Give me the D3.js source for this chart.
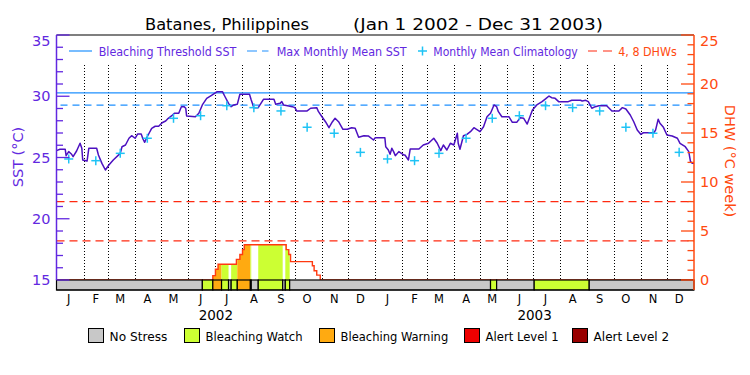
<!DOCTYPE html>
<html><head><meta charset="utf-8">
<script src="https://cdn.jsdelivr.net/npm/d3@7"></script>
<style>body{margin:0;background:#fff}svg{display:block}text{font-family:"DejaVu Sans",sans-serif}</style>
</head><body><svg id="c" width="750" height="375"></svg>
<script>
// ---------------- DATA ----------------
const sstDays = [0,4,10,11,14,17,19,23,27,29,30,35,37,46,48,52,56,60,65,73,75,79,83,86,90,93,97,99,101,103,106,109,113,117,121,125,128,132,135,140,143,146,148,149,159,163,167,172,178,184,190,193,197,200,203,207,210,221,223,226,231,237,249,251,256,258,260,266,270,273,275,287,291,298,300,304,308,312,316,319,323,328,333,338,342,346,352,357,363,365,376,377,380,382,384,386,388,392,398,399,403,405,415,420,426,432,436,440,443,447,451,455,459,460,462,466,470,474,478,481,485,489,493,497,501,504,506,510,518,522,527,531,535,539,545,550,556,560,564,567,571,575,586,590,600,602,606,609,613,617,621,630,636,644,648,652,657,661,665,669,672,684,686,689,691,695,699,705,711,714,720,724,726,728,730];
const sstValues = [25.56,25.67,25.67,25.15,25.48,25.29,25.07,25.53,26.16,25.75,24.80,24.71,25.75,25.75,25.20,24.52,23.98,24.39,24.80,25.34,25.88,26.02,26.57,26.78,26.57,26.92,26.92,26.51,26.24,26.57,26.98,27.38,27.55,27.55,27.84,27.98,28.20,28.41,28.61,28.61,29.15,29.15,29.02,28.39,28.33,28.61,29.29,29.83,30.10,30.37,30.37,29.96,29.42,29.15,29.29,29.34,30.16,30.16,29.69,29.07,29.07,29.75,29.75,29.34,29.42,29.56,29.29,29.20,29.15,29.07,28.80,28.80,29.02,29.07,28.74,28.33,27.92,27.43,27.92,28.20,27.92,27.30,27.30,27.43,27.38,26.65,26.78,26.76,26.43,26.62,26.62,25.88,25.61,25.26,25.75,25.48,25.15,25.48,25.20,25.20,24.80,25.69,25.69,26.02,26.16,26.57,26.16,25.56,26.02,25.61,26.16,26.02,26.98,26.16,25.67,26.78,26.89,27.11,27.43,27.30,27.11,27.51,28.33,28.61,29.29,29.15,28.74,28.33,28.33,27.87,27.87,28.25,28.20,27.73,28.88,29.29,29.56,29.78,30.02,29.88,29.83,29.56,29.56,29.67,29.67,29.61,29.67,29.56,29.02,29.15,29.23,29.23,28.80,28.80,29.07,28.96,28.47,27.92,27.24,26.89,27.02,27.02,27.24,28.12,27.79,27.46,26.84,26.76,26.57,26.16,25.88,25.48,24.66,24.53,24.53];
const climValues = [24.88,24.74,25.34,26.57,28.20,28.41,29.23,29.07,28.80,27.47,26.98,25.42];
const mmmSST = 29.27;
const thresholdSST = 30.27;
const dhwDays = [0,179,182,185,206,210,213,215,263,266,268,293,295,298,302,730];
const dhwValues = [0,0.45,1.1,1.6,2.1,2.6,3.1,3.6,3.1,2.6,1.87,1.45,0.95,0.5,0,0];
const dhwLevels = [4,8];
const stressStart = [0,167,179,189,197,200,207,222,223,231,259,262,267,497,504,547,610];
const stressLevel = [0,1,2,1,0,1,2,1,0,1,0,1,0,1,0,1,0];
const stressNames = ["No Stress","Bleaching Watch","Bleaching Warning","Alert Level 1","Alert Level 2"];
const stressColors = ["#c8c8c8","#ccff33","#ffaa11","#ee0000","#990000"];
const monthLabels = ["J","F","M","A","M","J","J","A","S","O","N","D"];
const yearLabels = ["2002","2003"];
const sstTicks = [15,20,25,30,35];
const dhwTicks = [0,5,10,15,20,25];
const legendLabels = ["Bleaching Threshold SST","Max Monthly Mean SST","Monthly Mean Climatology","4, 8 DHWs"];

// ---------------- STYLE ----------------
const cAxisL = "#6228e0", cSST = "#4c10c0", cAxisR = "#ff4a10", cThr = "#1e90ff", cClim = "#1ec3f5", cDHWdash = "#ff2a10", cDHW = "#ff3a10";

const svg = d3.select("#c");
const t0 = Date.UTC(2002,0,1);
const dayDate = d => new Date(t0 + d*864e5);
const x = d3.scaleUtc().domain([new Date(Date.UTC(2002,0,1)), new Date(Date.UTC(2004,0,1))]).range([56.5, 694]);
const yS = d3.scaleLinear().domain([15,35]).range([280,35]);
const yD = d3.scaleLinear().domain([0,25]).range([280,35]);
const L = 56.5, R = 694, T = 35, B = 280, BB = 290;

function txt(g, s, xx, yy, size, color, anchor, len){
  const t = g.append("text").attr("x",xx).attr("y",yy).attr("font-size",size).attr("fill",color).attr("text-anchor",anchor||"start").text(s);
  if(len){ t.attr("textLength",len).attr("lengthAdjust","spacingAndGlyphs"); }
  return t;
}

// dotted month lines
const months = d3.utcMonth.range(new Date(Date.UTC(2002,1,1)), new Date(Date.UTC(2004,0,1)));
svg.append("g").selectAll("line").data(months).join("line")
  .attr("x1",d=>Math.round(x(d))+0.5).attr("x2",d=>Math.round(x(d))+0.5)
  .attr("y1",65).attr("y2",B).attr("stroke","#000").attr("stroke-width",1).attr("stroke-dasharray","1,2");

// threshold & MMM
svg.append("line").attr("x1",L).attr("x2",R).attr("y1",yS(thresholdSST)).attr("y2",yS(thresholdSST)).attr("stroke",cThr).attr("stroke-width",1.2);
svg.append("line").attr("x1",L+4).attr("x2",R).attr("y1",yS(mmmSST)).attr("y2",yS(mmmSST)).attr("stroke",cThr).attr("stroke-width",1.2).attr("stroke-dasharray","7,5");

// DHW dashed levels
svg.append("g").selectAll("line").data(dhwLevels).join("line")
  .attr("x1",L).attr("x2",R).attr("y1",d=>yD(d)).attr("y2",d=>yD(d))
  .attr("stroke",cDHWdash).attr("stroke-width",1.2).attr("stroke-dasharray","8,5");

// DHW fill by stress
const dhwPts = dhwDays.map((d,i)=>[dayDate(d), dhwValues[i]]);
const area = d3.area().curve(d3.curveStepAfter).x(d=>x(d[0])).y0(B).y1(d=>yD(d[1]));
svg.append("clipPath").attr("id","dclip").append("path").attr("d",area(dhwPts));
const segs = stressStart.map((s,i)=>({s, e: i<stressStart.length-1 ? stressStart[i+1] : 730, lv: stressLevel[i]}));
svg.append("g").attr("clip-path","url(#dclip)").selectAll("rect").data(segs.filter(d=>d.lv>0)).join("rect")
  .attr("x",d=>x(dayDate(d.s))).attr("width",d=>x(dayDate(d.e))-x(dayDate(d.s)))
  .attr("y",T).attr("height",B-T).attr("fill",d=>stressColors[d.lv]);
const line = d3.line().curve(d3.curveStepAfter).x(d=>x(d[0])).y(d=>yD(d[1]));
svg.append("path").attr("d",line(dhwPts)).attr("fill","none").attr("stroke",cDHW).attr("stroke-width",1.4);

// SST line
const sstPts = sstDays.map((d,i)=>[dayDate(d), sstValues[i]]);
svg.append("path").attr("d",d3.line().x(d=>x(d[0])).y(d=>yS(d[1]))(sstPts))
  .attr("fill","none").attr("stroke",cSST).attr("stroke-width",1.5).attr("stroke-linejoin","round");

// climatology crosses
const clim = [];
[2002,2003].forEach(yr=>climValues.forEach((v,m)=>clim.push([new Date(Date.UTC(yr,m,15)), v])));
const cg = svg.append("g").attr("stroke",cClim).attr("stroke-width",1.5);
clim.forEach(d=>{
  const cx = x(d[0]), cy = yS(d[1]);
  cg.append("line").attr("x1",cx-4.5).attr("x2",cx+4.5).attr("y1",cy).attr("y2",cy);
  cg.append("line").attr("x1",cx).attr("x2",cx).attr("y1",cy-4.5).attr("y2",cy+4.5);
});

// stress bar
svg.append("g").selectAll("rect").data(segs).join("rect")
  .attr("x",d=>x(dayDate(d.s))).attr("width",d=>x(dayDate(d.e))-x(dayDate(d.s)))
  .attr("y",B).attr("height",BB-B).attr("fill",d=>stressColors[d.lv]).attr("stroke","#000").attr("stroke-width",1.2);

// frame
svg.append("line").attr("x1",L).attr("x2",R).attr("y1",T).attr("y2",T).attr("stroke","#000").attr("stroke-width",1.2);
svg.append("line").attr("x1",L).attr("x2",R).attr("y1",BB).attr("y2",BB).attr("stroke","#000").attr("stroke-width",1.2);

// left axis
const gl = svg.append("g");
gl.append("line").attr("x1",L).attr("x2",L).attr("y1",T).attr("y2",B).attr("stroke",cAxisL).attr("stroke-width",1.5);
gl.selectAll(".mn").data(d3.range(15,36)).join("line").attr("x1",L).attr("x2",d=>sstTicks.includes(d)?L+13:L+6.5)
  .attr("y1",d=>yS(d)).attr("y2",d=>yS(d)).attr("stroke",cAxisL).attr("stroke-width",1.3);
sstTicks.forEach(v=>{ const yy = Math.max(yS(v), 40.5); txt(gl, String(v), 50.5, yy+5, 14.5, cAxisL, "end"); });
txt(gl, "SST (°C)", 0, 0, 14.5, cAxisL, "middle").attr("transform","translate(23,157) rotate(-90)");

// right axis
const gr = svg.append("g");
gr.append("line").attr("x1",R).attr("x2",R).attr("y1",T).attr("y2",BB).attr("stroke",cAxisR).attr("stroke-width",1.5);
gr.selectAll(".mn").data(d3.range(0,26)).join("line").attr("x1",R).attr("x2",d=>dhwTicks.includes(d)?R-13:R-6.5)
  .attr("y1",d=>yD(d)).attr("y2",d=>yD(d)).attr("stroke",cAxisR).attr("stroke-width",1.3);
dhwTicks.forEach(v=>{ const yy = Math.max(yD(v), 40.5); txt(gr, String(v), 700, yy+5, 14.5, cAxisR, "start"); });
txt(gr, "DHW (°C week)", 0, 0, 14.5, cAxisR, "middle").attr("transform","translate(725,161) rotate(90)");

// month & year labels
const gm = svg.append("g");
[2002,2003].forEach(yr=>monthLabels.forEach((m,i)=>{
  txt(gm, m, x(new Date(Date.UTC(yr,i,15))), 303, 11.5, "#000", "middle");
}));
yearLabels.forEach((yl,i)=>{
  const a = x(new Date(Date.UTC(2002+i,0,1))), b = x(new Date(Date.UTC(2003+i,0,1)));
  txt(gm, yl, (a+b)/2, 320, 13.5, "#000", "middle");
});

// title
txt(svg, "Batanes, Philippines", 145, 29.5, 16.5, "#000", "start", 164);
txt(svg, "(Jan 1 2002 - Dec 31 2003)", 353, 29.5, 16.5, "#000", "start", 250);

// top legend
const lg = svg.append("g");
lg.append("line").attr("x1",69).attr("x2",92).attr("y1",51).attr("y2",51).attr("stroke",cThr).attr("stroke-width",1.2);
txt(lg, legendLabels[0], 98.7, 55.5, 12.5, cAxisL, "start", 137.6);
lg.append("line").attr("x1",247).attr("x2",268.5).attr("y1",51).attr("y2",51).attr("stroke",cThr).attr("stroke-width",1.2).attr("stroke-dasharray","10,5");
txt(lg, legendLabels[1], 276.7, 55.5, 12.5, cAxisL, "start", 130);
lg.append("line").attr("x1",418).attr("x2",427).attr("y1",51).attr("y2",51).attr("stroke",cClim).attr("stroke-width",1.5);
lg.append("line").attr("x1",422.5).attr("x2",422.5).attr("y1",46.5).attr("y2",55.5).attr("stroke",cClim).attr("stroke-width",1.5);
txt(lg, legendLabels[2], 433.3, 55.5, 12.5, cAxisL, "start", 144.4);
lg.append("line").attr("x1",588).attr("x2",612).attr("y1",51).attr("y2",51).attr("stroke",cDHWdash).attr("stroke-width",1.2).attr("stroke-dasharray","9,6");
txt(lg, legendLabels[3], 618.3, 55.5, 12.5, cAxisR, "start", 58.4);

// bottom legend
const bx = [88,184,319,464,572], tw = [57.7,97,107.6,73,75.5];
const bl = svg.append("g");
stressNames.forEach((n,i)=>{
  bl.append("rect").attr("x",bx[i]+0.5).attr("y",328.5).attr("width",15).attr("height",14).attr("fill",stressColors[i]).attr("stroke","#000").attr("stroke-width",1);
  txt(bl, n, bx[i]+21.6, 341, 13, "#000", "start", tw[i]);
});
</script></body></html>
